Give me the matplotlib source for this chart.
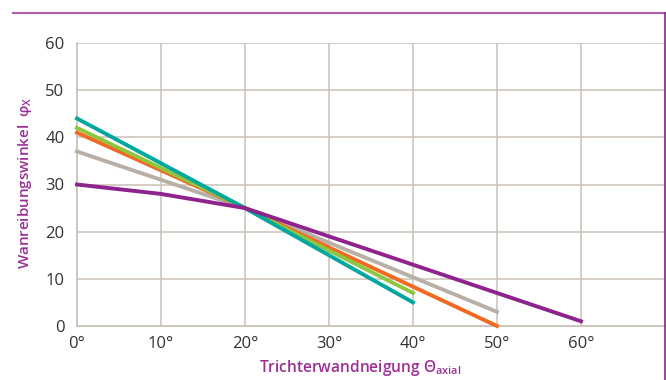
import matplotlib
matplotlib.use("Agg")
from matplotlib import pyplot as plt
from matplotlib.lines import Line2D

plt.rcParams['font.family'] = ['Open Sans', 'DejaVu Sans']
plt.rcParams['mathtext.fontset'] = 'custom'
plt.rcParams['mathtext.rm'] = 'Open Sans'

# Wandneigung in Grad, Reibungswinkel
purple_x = [0, 10, 20, 60]
purple_y = [30, 28, 25, 1]
gray_x = [0, 20, 50]
gray_y = [37, 25, 3]
orange_x = [0, 20, 50]
orange_y = [41, 25, 0]
green_x = [0, 20, 40]
green_y = [42, 25, 7]
teal_x = [0, 20, 40]
teal_y = [44, 25, 5]

x_ticks = [0, 10, 20, 30, 40, 50, 60]
x_labels = ["0°", "10°", "20°", "30°", "40°", "50°", "60°"]
y_ticks = [0, 10, 20, 30, 40, 50, 60]

grid_col = "#c9c1b8"
label_col = "#9b2f96"

fig = plt.figure(figsize=(6.66, 3.8), dpi=100)
ax = fig.add_axes([77 / 666, 1 - 326 / 380, 588 / 666, 283 / 380])

for v in range(10, 71, 10):
    ax.axvline(v, color=grid_col, lw=1.1, zorder=1)
for h in range(10, 61, 10):
    ax.axhline(h, color=grid_col, lw=1.1, zorder=1)

lw = 2.8
ax.plot(gray_x, gray_y, color="#b8b0a6", lw=lw, clip_on=False, zorder=3)
ax.plot(orange_x, orange_y, color="#f26a21", lw=lw, clip_on=False, zorder=3)
ax.plot(green_x, green_y, color="#8dc63f", lw=lw, clip_on=False, zorder=3)
ax.plot(teal_x, teal_y, color="#00a79d", lw=lw, clip_on=False, zorder=4)
ax.plot(purple_x, purple_y, color="#8e238e", lw=lw, clip_on=False, zorder=5)

ax.set_xlim(0, 70)
ax.set_ylim(0, 60)
ax.set_xticks(x_ticks)
ax.set_xticklabels(x_labels)
ax.set_yticks(y_ticks)
ax.tick_params(length=0, labelsize=12, labelcolor="#333333")
ax.tick_params(axis='x', pad=7)
ax.tick_params(axis='y', pad=9)
for s in ["top", "right"]:
    ax.spines[s].set_visible(False)
for s in ["left", "bottom"]:
    ax.spines[s].set_color(grid_col)
    ax.spines[s].set_linewidth(1.3)

# axis titles, semibold purple
fig.text(360 / 666, 1 - 368 / 380, "Trichterwandneigung Θ$_\\mathregular{axial}$",
         color=label_col, fontsize=11.2, fontweight="semibold",
         ha="center", va="center")
fig.text(25 / 666, 1 - 183 / 380, "Wanreibungswinkel  φ$_\\mathregular{X}$",
         color=label_col, fontsize=10.9, fontweight="semibold",
         ha="center", va="center", rotation=90)

# purple frame at top and right
fig.add_artist(Line2D([13 / 666, 665 / 666], [1 - 13 / 380, 1 - 13 / 380],
                      color="#b25cb0", lw=1.5))
fig.add_artist(Line2D([665 / 666, 665 / 666], [1 - 13 / 380, 0],
                      color="#8e238e", lw=1.2))

fig.savefig("out.png", dpi=100)
